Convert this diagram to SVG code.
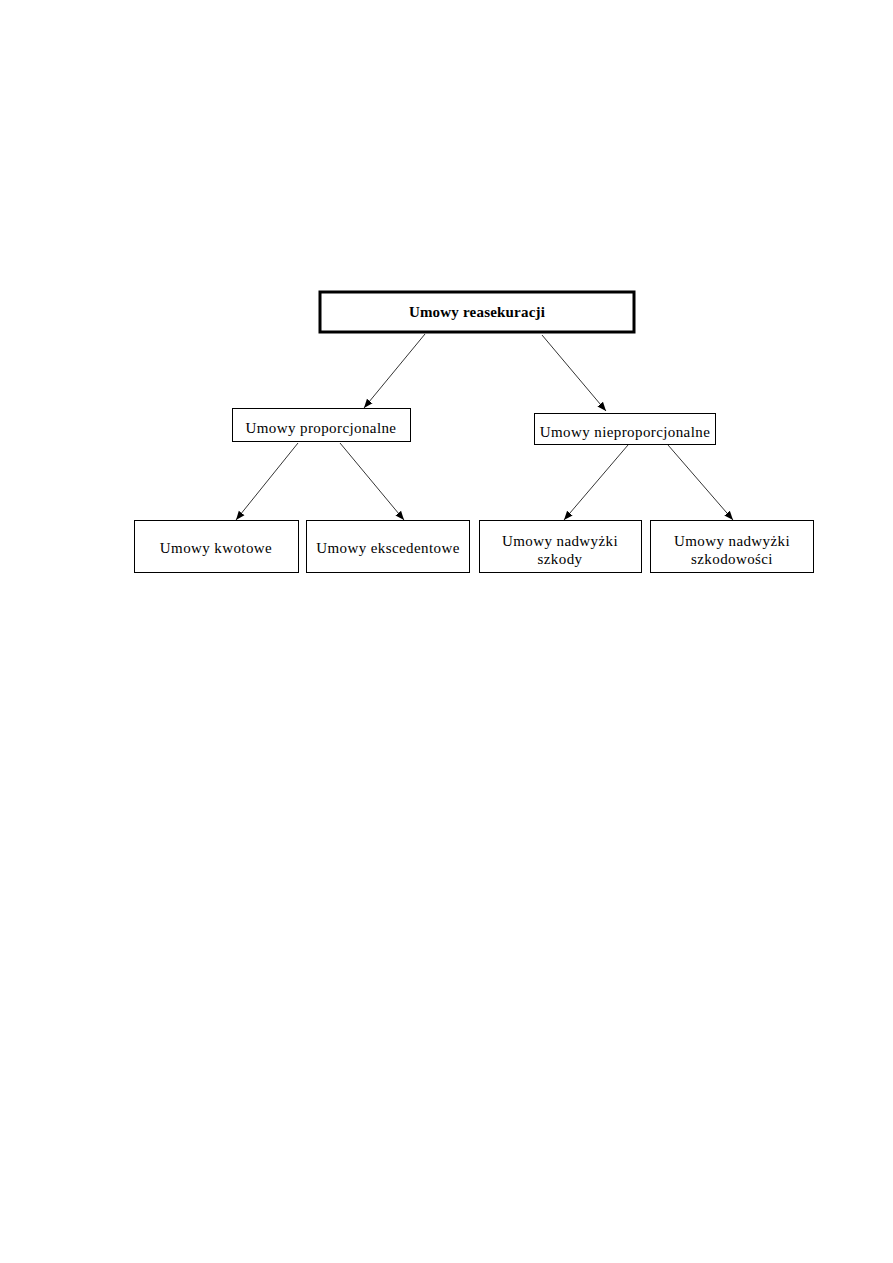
<svg xmlns="http://www.w3.org/2000/svg" width="893" height="1263" viewBox="0 0 893 1263">
<defs>
<style>
.box{fill:#fff;stroke:#000;stroke-width:1}
.main{fill:#fff;stroke:#000;stroke-width:3}
.t{font-family:"Liberation Serif","Times New Roman",serif;font-size:15px;fill:#000;text-anchor:middle;letter-spacing:0.4px}
.tb{font-family:"Liberation Serif","Times New Roman",serif;font-size:15px;font-weight:bold;fill:#000;text-anchor:middle;letter-spacing:0.2px}
.c{stroke:#000;stroke-width:0.8;fill:none;marker-end:url(#ah)}
</style>
<marker id="ah" viewBox="0 0 10 10" refX="10" refY="5" markerWidth="9" markerHeight="9" markerUnits="userSpaceOnUse" orient="auto">
<path d="M0,1 L10,5 L0,9 z" fill="#000"/>
</marker>
</defs>
<rect width="893" height="1263" fill="#fff"/>
<g id="connectors">
<line class="c" x1="425" y1="334" x2="364" y2="408"/>
<line class="c" x1="542" y1="335" x2="606" y2="411"/>
<line class="c" x1="298" y1="443" x2="236" y2="520"/>
<line class="c" x1="340" y1="443" x2="404" y2="520"/>
<line class="c" x1="628" y1="445" x2="564" y2="520"/>
<line class="c" x1="668" y1="445" x2="733" y2="520"/>
</g>
<g id="root">
<rect class="main" x="320" y="292" width="314" height="40"/>
<text class="tb" x="477" y="317">Umowy reasekuracji</text>
</g>
<g id="proporcjonalne">
<rect class="box" x="232.5" y="408.5" width="178" height="33"/>
<text class="t" x="321" y="433">Umowy proporcjonalne</text>
</g>
<g id="nieproporcjonalne">
<rect class="box" x="534.5" y="413.5" width="181" height="31"/>
<text class="t" x="625" y="437">Umowy nieproporcjonalne</text>
</g>
<g id="kwotowe">
<rect class="box" x="134.5" y="520.5" width="164" height="52"/>
<text class="t" x="216" y="553">Umowy kwotowe</text>
</g>
<g id="ekscedentowe">
<rect class="box" x="306.5" y="520.5" width="163" height="52"/>
<text class="t" x="388" y="553">Umowy ekscedentowe</text>
</g>
<g id="nadwyzki-szkody">
<rect class="box" x="479.5" y="520.5" width="162" height="52"/>
<text class="t" x="560" y="546">Umowy nadwyżki</text>
<text class="t" x="560" y="564">szkody</text>
</g>
<g id="nadwyzki-szkodowosci">
<rect class="box" x="650.5" y="520.5" width="163" height="52"/>
<text class="t" x="732" y="546">Umowy nadwyżki</text>
<text class="t" x="732" y="564">szkodowości</text>
</g>
</svg>
